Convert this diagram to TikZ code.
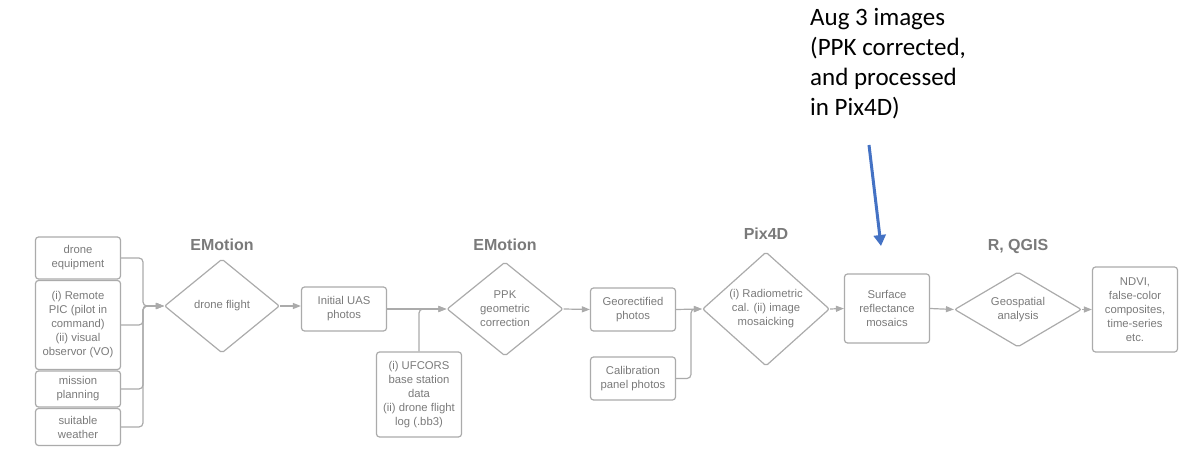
\documentclass[tikz,border=0pt]{standalone}
\usepackage{fontspec}
\setmainfont{Liberation Sans}
\newfontfamily\notefont{Carlito}
\usetikzlibrary{shapes,arrows.meta,positioning}
\definecolor{linegray}{HTML}{ABABAB}
\definecolor{textgray}{HTML}{7A7A7A}
\definecolor{noteblue}{HTML}{4472C4}
\tikzstyle{box}=[rectangle,rounded corners=3pt,draw=linegray,line width=1.2pt,text=textgray,minimum width=85pt,align=center,inner sep=0pt,font=\fontsize{11.3}{14}\selectfont]
\tikzstyle{decision}=[diamond,rounded corners=2pt,draw=linegray,line width=1.2pt,text=textgray,align=center,inner sep=-12pt,font=\fontsize{11.3}{14}\selectfont]
\tikzstyle{tool}=[anchor=base,text=textgray,font=\fontsize{16}{18}\selectfont\bfseries]
\tikzstyle{flow}=[draw=linegray,line width=1.2pt,rounded corners=4pt,-{Triangle[length=8pt,width=6pt]}]

\begin{document}
\begin{tikzpicture}[x=1pt,y=-1pt]

\useasboundingbox (0,0) rectangle (1189,454);

% inputs and products
\foreach \pos/\h/\name/\txt in {{(78,258)/42/equip/{drone\\equipment}},
    {(78,325)/89/pic/{(i) Remote\\PIC (pilot in\\command)\\(ii) visual\\observor (VO)}},
    {(78,389)/36/plan/{mission\\planning}}, {(78,427)/37/weather/{suitable\\weather}},
    {(344,309)/44/uas/{Initial UAS\\photos}},
    {(419,394.5)/85/ufcors/{(i) UFCORS\\base station\\data\\(ii) drone flight\\log (.bb3)}},
    {(633,309.5)/43/geo/{Georectified\\photos}}, {(633,378.5)/43/calib/{Calibration\\panel photos}},
    {(887,308.5)/69/surf/{Surface\\reflectance\\mosaics}},
    {(1135,309.5)/85/ndvi/{NDVI,\\false-color\\composites,\\time-series\\etc.}}}
    \node[box,minimum height=\h pt] (\name) at \pos {\txt};

% processing steps
\node[decision,minimum width=115pt,minimum height=94pt] (flight) at (222,306) {drone flight};
\node[decision,minimum width=116pt,minimum height=94pt] (ppk) at (505,309) {PPK\\geometric\\correction};
\node[decision,minimum width=127pt,minimum height=114pt] (pix) at (766,309) {(i) Radiometric\\cal. (ii) image\\mosaicking};
\node[decision,minimum width=127pt,minimum height=75pt] (gis) at (1018,309.5) {Geospatial\\analysis};

\node[tool] (tool1) at (222,251) {EMotion};
\node[tool] (tool2) at (505,251) {EMotion};
\node[tool] (tool3) at (766,240) {Pix4D};
\node[tool] (tool4) at (1018,251) {R, QGIS};

% connectors
\coordinate (join1) at (143,306);
\coordinate (join2) at (691,309);
\foreach \src in {equip, pic, plan, weather}
    \draw[flow] (\src.east) -| (join1) -- (flight.west);
\draw[flow] (flight.east) -- (flight.east -| uas.west);
\draw[flow] (ufcors.north) |- (ppk.west);
\draw[flow] (calib.east) -| (join2) -- (pix.west);
\foreach \src/\dest in {uas/ppk, ppk/geo, geo/pix, pix/surf, surf/gis, gis/ndvi}
    \draw[flow] (\src.east) -- (\dest.west);

% note
\node[anchor=north west,inner sep=0pt,align=left,font=\notefont\fontsize{25}{30}\selectfont] (note) at (810,8) {Aug 3 images\\(PPK corrected,\\and processed\\in Pix4D)};
\coordinate (tail) at (869,145);
\coordinate (head) at (881,246);
\draw[noteblue,line width=3pt,-{Triangle[length=11pt,width=12pt]}] (tail) -- (head);

\end{tikzpicture}
\end{document}
